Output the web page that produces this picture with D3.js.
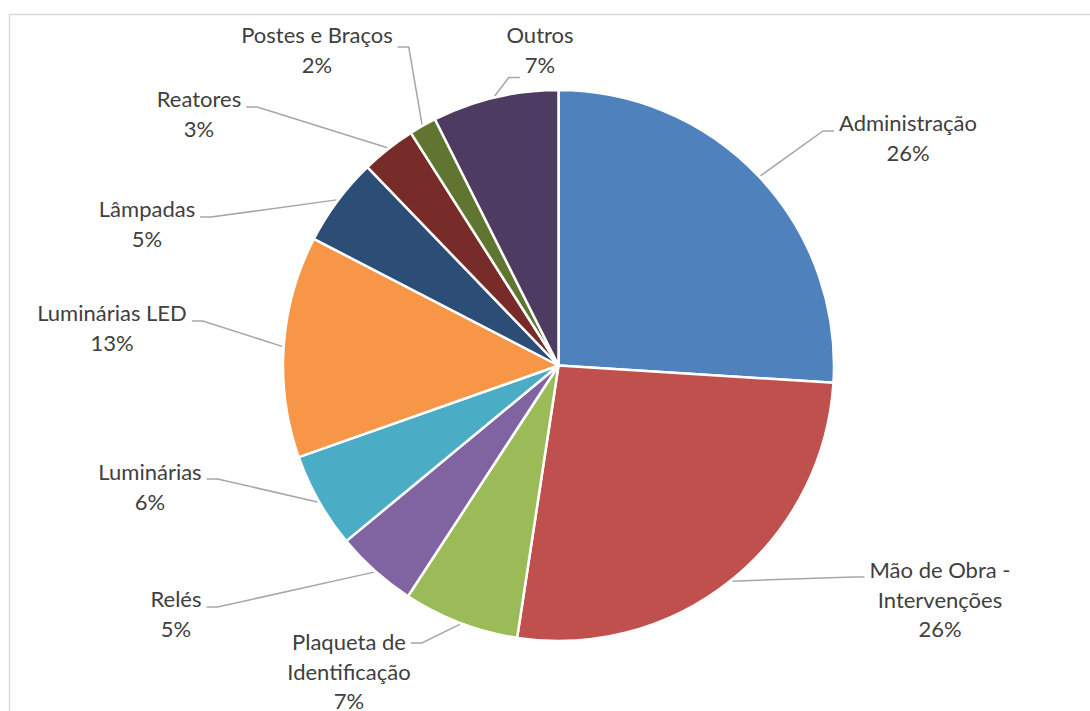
<!DOCTYPE html>
<html lang="pt">
<head>
<meta charset="utf-8">
<title>Composição de custos</title>
<script src="https://cdn.jsdelivr.net/npm/d3@7"></script>
<style>
  html, body { margin: 0; padding: 0; background: #ffffff; }
  svg { display: block; }
</style>
</head>
<body>
<svg id="chart" width="1090" height="711"></svg>
<script>
// Cost breakdown (share of total, %), clockwise from 12 o'clock
const categories = [
  "Administração",
  "Mão de Obra - Intervenções",
  "Plaqueta de Identificação",
  "Relés",
  "Luminárias",
  "Luminárias LED",
  "Lâmpadas",
  "Reatores",
  "Postes e Braços",
  "Outros"
];
const shares = [26.0, 26.4, 6.8, 4.8, 5.6, 13.0, 5.2, 3.2, 1.6, 7.4];
const sliceColors = [
  "#4F81BD", "#C0504D", "#9BBB59", "#8064A2", "#4BACC6",
  "#F79646", "#2C4D75", "#772C2A", "#5F7530", "#4D3B62"
];

// Label placement: text centre x, first baseline y, which edge the leader
// meets ("end" = right edge of the text, "start" = left edge), the line it
// meets and a small vertical offset for the leader's horizontal stub.
const labelLayout = {
  "Administração":              { x: 908, y: 131, side: "start", line: 0, dy: 0 },
  "Mão de Obra - Intervenções": { x: 940, y: 578, side: "start", line: 0, dy: -1 },
  "Plaqueta de Identificação":  { x: 349, y: 650, side: "end",   line: 0, dy: -7 },
  "Relés":                      { x: 176, y: 607, side: "end",   line: 0, dy: 0 },
  "Luminárias":                 { x: 150, y: 480, side: "end",   line: 0, dy: -1 },
  "Luminárias LED":             { x: 112, y: 321, side: "end",   line: 0, dy: 0 },
  "Lâmpadas":                   { x: 147, y: 217, side: "end",   line: 0, dy: 0 },
  "Reatores":                   { x: 199, y: 107, side: "end",   line: 0, dy: 0 },
  "Postes e Braços":            { x: 317, y: 43,  side: "end",   line: 0, dy: 4 },
  "Outros":                     { x: 540, y: 43,  side: "start", line: 1, dy: 5 }
};

const W = 1090, H = 711;
const cx = 558.5, cy = 365.5, radius = 275.5;
const fontFamily = "Lato, 'Open Sans', sans-serif";
const fontSize = 22;
const lineGap = 29.5;
const wrapWidth = 170;

const svg = d3.select("#chart");

// Chart area frame
svg.append("rect")
  .attr("x", 9.5).attr("y", 14.5)
  .attr("width", W + 20).attr("height", H + 20)
  .attr("fill", "none")
  .attr("stroke", "#d9d9d9")
  .attr("stroke-width", 1.5);

const data = categories.map((name, i) => ({ name, value: shares[i], color: sliceColors[i] }));
const total = d3.sum(shares);
const pct = d3.format(".0%");

const pie = d3.pie().value(d => d.value).sort(null).startAngle(0).endAngle(2 * Math.PI);
const arcs = pie(data);
const arc = d3.arc().innerRadius(0).outerRadius(radius);

const g = svg.append("g").attr("transform", `translate(${cx},${cy})`);

g.selectAll("path.slice")
  .data(arcs)
  .join("path")
  .attr("class", "slice")
  .attr("d", arc)
  .attr("fill", d => d.data.color)
  .attr("stroke", "#ffffff")
  .attr("stroke-width", 2.5)
  .attr("stroke-linejoin", "round");

// Data labels with word wrapping
const labelsG = svg.append("g");
const leadersG = svg.insert("g", "g");

arcs.forEach(a => {
  const d = a.data;
  const lay = labelLayout[d.name];
  const text = labelsG.append("text")
    .attr("font-family", fontFamily)
    .attr("font-size", fontSize)
    .attr("fill", "#404040")
    .attr("text-anchor", "middle");

  // wrap the category name into lines no wider than wrapWidth
  const words = d.name.split(" ");
  const lines = [];
  let current = [];
  const probe = text.append("tspan");
  words.forEach(w => {
    const trial = current.concat(w).join(" ");
    probe.text(trial);
    if (probe.node().getComputedTextLength() > wrapWidth && current.length) {
      lines.push(current.join(" "));
      current = [w];
    } else {
      current.push(w);
    }
  });
  if (current.length) lines.push(current.join(" "));
  probe.remove();
  lines.push(pct(d.value / total));

  const spans = lines.map((ln, i) =>
    text.append("tspan")
      .attr("x", lay.x)
      .attr("y", lay.y + i * lineGap)
      .text(ln)
  );

  // leader line: from the slice edge at its mid-angle to the label
  const mid = (a.startAngle + a.endAngle) / 2;
  const r0 = radius + 1.5;
  const sx = cx + r0 * Math.sin(mid);
  const sy = cy - r0 * Math.cos(mid);
  const w = spans[lay.line].node().getComputedTextLength();
  const ly = lay.y + lay.line * lineGap + lay.dy;
  let ex, bx;
  if (lay.side === "end") {
    ex = lay.x + w / 2 + 5;
    bx = ex + 11;
  } else {
    ex = lay.x - w / 2 - 5;
    bx = ex - 11;
  }
  leadersG.append("polyline")
    .attr("points", [[sx, sy], [bx, ly], [ex, ly]].map(p => p.join(",")).join(" "))
    .attr("fill", "none")
    .attr("stroke", "#a6a6a6")
    .attr("stroke-width", 1.5);
});
</script>
</body>
</html>
